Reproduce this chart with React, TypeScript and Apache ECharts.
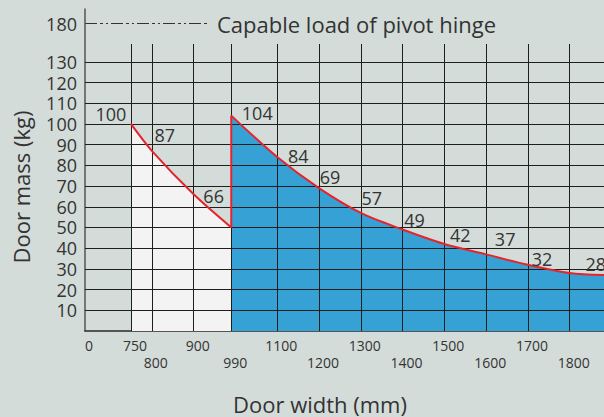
import React, { useEffect, useRef } from "react";
import * as echarts from "echarts";

// ---- data ----
const narrowWidths = [750, 800, 900, 990];
const narrowMass = [100, 87, 66, 50];
const narrowShowLabel = [true, true, true, false];

const wideWidths = [990, 1100, 1200, 1300, 1400, 1500, 1600, 1700, 1800, 1882];
const wideMass = [104, 84, 69, 57, 49, 42, 37, 32, 28, 27];
const wideShowLabel = [true, true, true, true, true, true, true, true, true, false];

const stepWidth = 990;
const stepFromMass = 50;
const stepToMass = 104;

// x axis is broken: its left end is labelled 0
const xAxisStart = 640;
const xAxisEnd = 1882;
const xTickValues = [640, 750, 800, 900, 990, 1100, 1200, 1300, 1400, 1500, 1600, 1700, 1800];
const xTickLabels = ["0", "750", "800", "900", "990", "1100", "1200", "1300", "1400", "1500", "1600", "1700", "1800"];
const xLowerRowValues = [800, 990, 1200, 1400, 1600, 1800];
const xGridValues = [750, 800, 900, 990, 1100, 1200, 1300, 1400, 1500, 1600, 1700, 1800];

const yTickValues = [10, 20, 30, 40, 50, 60, 70, 80, 90, 100, 110, 120, 130];
const yGridTop = 138.6;
const yAxisMax = 155.5;

const hingeCapacityLabel = "180";
const hingeLegendText = "Capable load of pivot hinge";
const xAxisTitle = "Door width (mm)";
const yAxisTitle = "Door mass (kg)";

// label placement (styling only)
const narrowLabelOffsets = [[-20, -10], [13, -16], [20, 2], [0, 0]];
const wideLabelOffsets = [[26, -3], [21, -1], [11, -11], [11, -15], [12, -10], [16, -9], [19, -15], [14, -6], [26, -9], [0, 0]];

const BG = "#d4dcd9";
const BLUE = "#36a1d5";
const WHITE_AREA = "#f3f3f3";
const RED = "#e5242b";
const GRID = "#1e1e1e";
const TEXT = "#333333";
const FONT = "Open Sans";

export default function App() {
  const ref = useRef<HTMLDivElement>(null);

  useEffect(() => {
    if (!ref.current) return;
    const chart = echarts.init(ref.current, null, { renderer: "svg" });

    const narrowData = narrowWidths.map((w, i) => [w, narrowMass[i]]);
    const wideData = wideWidths.map((w, i) => [w, wideMass[i]]);

    const labelled = (data: number[][], show: boolean[], offs: number[][]) =>
      data.map((d, i) => ({
        value: d,
        label: { show: show[i], offset: offs[i] },
      }));

    const gridLines: any[] = [];
    xGridValues.forEach((x) =>
      gridLines.push([{ coord: [x, 0] }, { coord: [x, yGridTop] }])
    );
    yTickValues.forEach((y) =>
      gridLines.push([{ coord: [xAxisStart, y] }, { coord: [xAxisEnd, y] }])
    );

    const labelStyle = {
      position: "inside",
      color: TEXT,
      fontFamily: FONT,
      fontSize: 18,
      lineHeight: 18,
      formatter: (p: any) => String(p.value[1]),
    };

    const option: any = {
      animation: false,
      backgroundColor: BG,
      grid: { left: 85, right: 0, top: 9, bottom: 86, containLabel: false, outerBoundsMode: "none" },
      xAxis: {
        type: "value",
        min: xAxisStart,
        max: xAxisEnd,
        axisLine: { show: true, onZero: false, lineStyle: { color: "#2a2a2a", width: 1.5 } },
        axisTick: { show: false },
        splitLine: { show: false },
        axisLabel: {
          customValues: xTickValues,
          formatter: (v: number) => {
            const i = xTickValues.indexOf(v);
            const t = i >= 0 ? xTickLabels[i] : "";
            return xLowerRowValues.indexOf(v) >= 0 ? "\n" + t : t;
          },
          color: TEXT,
          fontFamily: FONT,
          fontSize: 14,
          lineHeight: 17,
          margin: 6,
          padding: [0, 0, 0, 8],
          showMinLabel: true,
          showMaxLabel: true,
        },
      },
      yAxis: {
        type: "value",
        min: 0,
        max: yAxisMax,
        interval: 10,
        axisLine: { show: true, onZero: false, lineStyle: { color: "#555", width: 1.5 } },
        axisTick: { show: false },
        splitLine: { show: false },
        axisLabel: {
          customValues: yTickValues,
          color: TEXT,
          fontFamily: FONT,
          fontSize: 18,
          lineHeight: 18,
          margin: 8,
        },
      },
      graphic: [
        {
          type: "text",
          x: 77,
          y: 23.5,
          style: {
            text: hingeCapacityLabel,
            fill: TEXT,
            font: `18px "${FONT}"`,
            align: "right",
            verticalAlign: "middle",
          },
        },
        {
          type: "line",
          shape: { x1: 85, y1: 23.5, x2: 209, y2: 23.5 },
          style: { stroke: "#333", lineWidth: 1, lineDash: [12, 3, 3, 3, 2, 3] },
        },
        {
          type: "text",
          x: 217,
          y: 23.5,
          style: {
            text: hingeLegendText,
            fill: TEXT,
            font: `22px "${FONT}"`,
            align: "left",
            verticalAlign: "middle",
          },
        },
        {
          type: "text",
          x: 320,
          y: 404,
          style: {
            text: xAxisTitle,
            fill: TEXT,
            font: `22px "${FONT}"`,
            align: "center",
            verticalAlign: "middle",
          },
        },
        {
          type: "text",
          x: 21,
          y: 187,
          rotation: Math.PI / 2,
          style: {
            text: yAxisTitle,
            fill: TEXT,
            font: `22px "${FONT}"`,
            align: "center",
            verticalAlign: "middle",
          },
        },
      ],
      series: [
        {
          name: "narrow-area",
          type: "line",
          data: narrowData,
          smooth: 0.3,
          symbol: "none",
          lineStyle: { width: 0, opacity: 0 },
          areaStyle: { color: WHITE_AREA, opacity: 1 },
          z: 1,
          silent: true,
          markLine: {
            silent: true,
            symbol: ["none", "none"],
            label: { show: false },
            lineStyle: { color: GRID, width: 1, type: "solid" },
            z: 2,
            data: gridLines,
          },
        },
        {
          name: "wide-area",
          type: "line",
          data: wideData,
          smooth: 0.3,
          symbol: "none",
          lineStyle: { width: 0, opacity: 0 },
          areaStyle: { color: BLUE, opacity: 1 },
          z: 1,
          silent: true,
        },
        {
          name: "narrow-line",
          type: "line",
          data: labelled(narrowData, narrowShowLabel, narrowLabelOffsets),
          smooth: 0.3,
          symbol: "circle",
          symbolSize: 1,
          itemStyle: { color: RED },
          lineStyle: { color: RED, width: 2 },
          label: labelStyle,
          z: 3,
        },
        {
          name: "wide-line",
          type: "line",
          data: labelled(wideData, wideShowLabel, wideLabelOffsets),
          smooth: 0.3,
          symbol: "circle",
          symbolSize: 1,
          itemStyle: { color: RED },
          lineStyle: { color: RED, width: 2 },
          label: labelStyle,
          z: 3,
        },
        {
          name: "step",
          type: "line",
          data: [
            [stepWidth, stepFromMass],
            [stepWidth, stepToMass],
          ],
          symbol: "none",
          lineStyle: { color: RED, width: 2 },
          z: 3,
        },
      ],
    };

    chart.setOption(option);
    return () => chart.dispose();
  }, []);

  return (
    <div
      ref={ref}
      style={{ position: "fixed", left: 0, top: 0, width: 604, height: 417 }}
    />
  );
}
